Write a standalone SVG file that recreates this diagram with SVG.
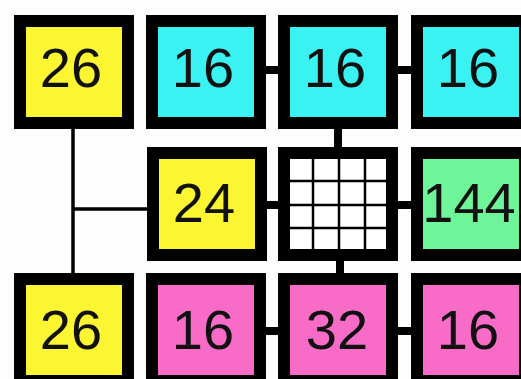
<svg xmlns="http://www.w3.org/2000/svg" width="521" height="379" viewBox="0 0 521 379">
<style>
.box{stroke:#000;stroke-width:12}
.y{fill:#FBF532}.c{fill:#3AF2F2}.p{fill:#F86CC8}.g{fill:#6EF59A}.w{fill:#FFFFFF}
.t{font-family:"Liberation Sans",Arial,sans-serif;font-size:56px;fill:#111;text-anchor:middle}
.thick{stroke:#000;stroke-width:8;fill:none}
.thin{stroke:#000;stroke-width:3.5;fill:none}
.grid{stroke:#000;stroke-width:2.5}
</style>
<rect width="521" height="379" fill="#FDFDFD"/>
<g id="connectors">
<path class="thin" d="M73 129V273M73 209H147"/>
<path class="thick" d="M266 70H278M398 70H411M338 129V147M267 205H278M398 205H411M340 261V273M266 331H278M398 331H411"/>
</g>
<g id="n1"><rect class="box y" x="20" y="21" width="108" height="102"/><text class="t" x="71" y="87">26</text></g>
<g id="n2"><rect class="box c" x="152" y="21" width="108" height="102"/><text class="t" x="203" y="87">16</text></g>
<g id="n3"><rect class="box c" x="284" y="21" width="108" height="102"/><text class="t" x="335" y="87">16</text></g>
<g id="n4"><rect class="box c" x="417" y="21" width="108" height="102"/><text class="t" x="468" y="87">16</text></g>
<g id="n5"><rect class="box y" x="153" y="153" width="108" height="102"/><text class="t" x="204" y="222">24</text></g>
<g id="n6"><rect class="box w" x="284" y="153" width="108" height="102"/>
<path class="grid" d="M313 159V250M339 159V250M365 159V250M290 181H387M290 205H387M290 228H387"/></g>
<g id="n7"><rect class="box g" x="417" y="153" width="108" height="102"/><text class="t" x="469" y="222">144</text></g>
<g id="n8"><rect class="box y" x="20" y="279" width="108" height="102"/><text class="t" x="71" y="349">26</text></g>
<g id="n9"><rect class="box p" x="152" y="279" width="108" height="102"/><text class="t" x="203" y="349">16</text></g>
<g id="n10"><rect class="box p" x="284" y="279" width="108" height="102"/><text class="t" x="337" y="349">32</text></g>
<g id="n11"><rect class="box p" x="417" y="279" width="108" height="102"/><text class="t" x="468" y="349">16</text></g>
</svg>
